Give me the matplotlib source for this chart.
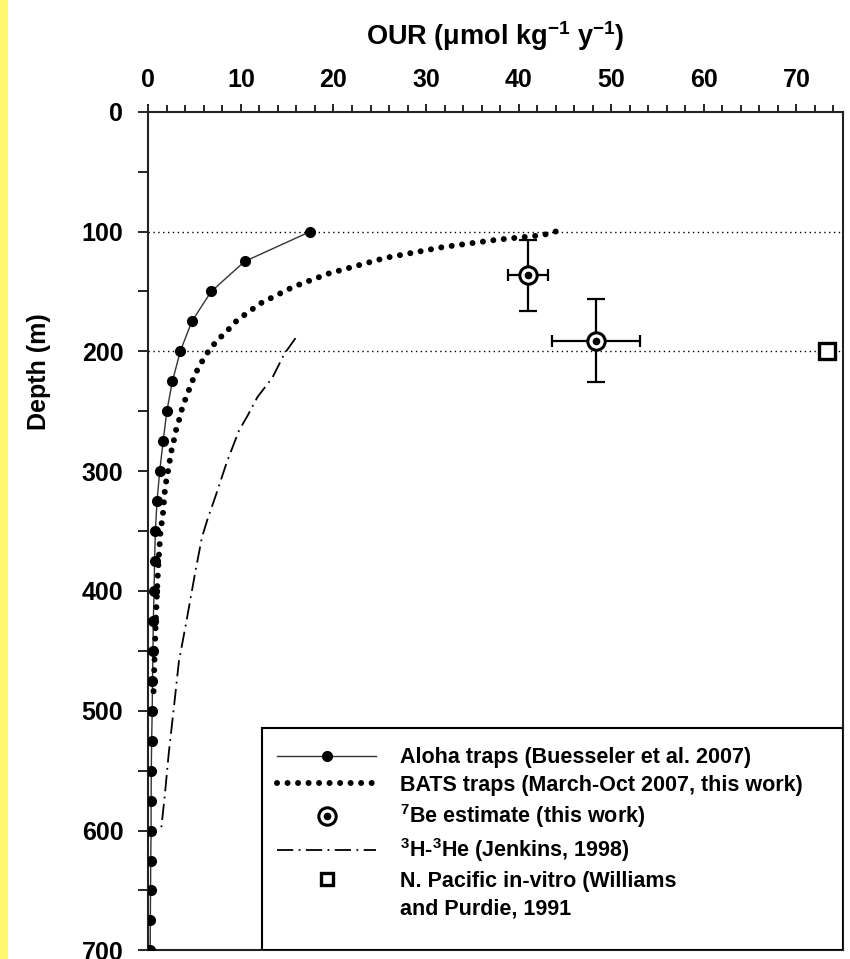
import matplotlib
matplotlib.use('Agg')
import matplotlib.pyplot as plt
from matplotlib.lines import Line2D
from matplotlib.patches import Rectangle
from matplotlib.ticker import MultipleLocator

plt.rcParams['font.family'] = ['Liberation Sans', 'DejaVu Sans']
plt.rcParams['font.weight'] = 'bold'
plt.rcParams['axes.labelweight'] = 'bold'
plt.rcParams['mathtext.fontset'] = 'custom'
plt.rcParams['mathtext.rm'] = 'Liberation Sans:bold'
plt.rcParams['mathtext.bf'] = 'Liberation Sans:bold'
plt.rcParams['mathtext.default'] = 'rm'

# Aloha sediment traps (Buesseler et al. 2007)
aloha_depth = [100, 125, 150, 175, 200, 225, 250, 275, 300, 325, 350, 375, 400,
               425, 450, 475, 500, 525, 550, 575, 600, 625, 650, 675, 700]
aloha_our = [17.5, 10.4, 6.8, 4.7, 3.45, 2.6, 2.0, 1.6, 1.23, 0.94, 0.76, 0.68, 0.62,
             0.54, 0.5, 0.45, 0.42, 0.36, 0.32, 0.3, 0.3, 0.26, 0.24, 0.22, 0.2]

# BATS traps (March-Oct 2007)
bats_depth = [100, 103, 107, 113, 122, 135, 146, 160, 174, 183, 192, 201, 211, 220,
              230, 240, 249, 258, 268, 277, 286, 295, 305, 315, 324, 334, 343, 352,
              370, 390, 426, 455, 487]
bats_our = [44.0, 42.6, 37.5, 31.8, 25.6, 19.5, 15.7, 12.1, 9.6, 8.5, 7.3, 6.4, 5.6, 5.0,
            4.5, 4.0, 3.6, 3.3, 2.9, 2.7, 2.4, 2.25, 2.0, 1.8, 1.7, 1.6, 1.45, 1.3,
            1.15, 1.0, 0.8, 0.68, 0.55]

# 3H-3He (Jenkins, 1998)
jenkins_depth = [189, 202, 222, 238, 254, 266, 292, 320, 340, 355, 383, 426, 459, 498,
                 536, 569, 598]
jenkins_our = [15.9, 14.7, 13.4, 11.8, 10.7, 9.8, 8.5, 7.3, 6.4, 5.8, 5.1, 4.1, 3.3, 2.75,
               2.2, 1.8, 1.4]

# 7Be estimates (this work)
be_depth = [136.5, 191]
be_our = [41.0, 48.4]
be_xerr = [2.2, 4.75]
be_yerr = [29.5, 35]

# N. Pacific in-vitro (Williams and Purdie, 1991)
vitro_depth = [200]
vitro_our = [73.3]

ref_depths = [100, 200]

labels = ['Aloha traps (Buesseler et al. 2007)',
          'BATS traps (March-Oct 2007, this work)',
          '$^{7}$Be estimate (this work)',
          '$^{3}$H-$^{3}$He (Jenkins, 1998)',
          'N. Pacific in-vitro (Williams',
          'and Purdie, 1991']

fig = plt.figure(figsize=(8.5, 9.59), dpi=100)
ax = fig.add_axes([0.1745, 0.0090, 0.8169, 0.8745])

# yellow strip on the left edge
fig.patches.append(Rectangle((0, 0), 8 / 850, 1, transform=fig.transFigure,
                             facecolor='#fff86e', edgecolor='none'))

for d in ref_depths:
    ax.axhline(d, color='black', lw=1.0, ls=(0, (1, 2.5)), zorder=1)

dots = dict(color='black', lw=4.3, ls=(0, (0.01, 1.75)), dash_capstyle='round')
dashdot = dict(color='black', lw=1.3, ls=(0, (9, 3, 1, 3)))

ax.plot(aloha_our, aloha_depth, color='#333333', lw=1.0, marker='o', ms=7,
        mfc='black', mec='black', zorder=3)
ax.plot(bats_our, bats_depth, zorder=3, **dots)
ax.plot(jenkins_our, jenkins_depth, zorder=3, **dashdot)

ax.errorbar(be_our, be_depth, yerr=be_yerr, fmt='none', ecolor='black',
            elinewidth=1.6, capsize=6.5, capthick=1.6, zorder=4)
ax.errorbar(be_our, be_depth, xerr=be_xerr, fmt='none', ecolor='black',
            elinewidth=1.6, capsize=4.5, capthick=1.6, zorder=4)
ax.plot(be_our, be_depth, ls='none', marker='o', ms=12.5, mfc='white', mec='black',
        mew=2.2, zorder=5)
ax.plot(be_our, be_depth, ls='none', marker='o', ms=4.5, mfc='black', mec='black',
        zorder=6)

ax.plot(vitro_our, vitro_depth, ls='none', marker='s', ms=11, mfc='white',
        mec='black', mew=2.4, zorder=5)

ax.set_xlim(0, 75)
ax.set_ylim(700, 0)
ax.xaxis.tick_top()
ax.xaxis.set_label_position('top')
ax.xaxis.set_major_locator(MultipleLocator(10))
ax.xaxis.set_minor_locator(MultipleLocator(2))
ax.yaxis.set_major_locator(MultipleLocator(100))
ax.yaxis.set_minor_locator(MultipleLocator(50))
ax.set_xticks([0, 10, 20, 30, 40, 50, 60, 70])
ax.tick_params(axis='x', which='major', length=6, width=1.2, pad=8, labelsize=18)
ax.tick_params(axis='x', which='minor', length=5, width=1.2)
ax.tick_params(axis='y', which='major', length=7, width=1.2, pad=11, labelsize=18)
ax.tick_params(axis='y', which='minor', length=7, width=1.2)
for s in ax.spines.values():
    s.set_linewidth(1.5)
    s.set_color('#222222')

ax.set_xlabel('OUR ($\\mu$mol kg$^{-1}$ y$^{-1}$)', fontsize=19.5, fontweight='bold',
              labelpad=17)
ax.set_ylabel('Depth (m)', fontsize=18, fontweight='bold')
ax.yaxis.set_label_coords(-0.14, 0.69)

# legend box drawn by hand, then legend entries without frame
ax.add_patch(Rectangle((0.163, 0.0), 0.837, 0.2655, transform=ax.transAxes,
                       facecolor='white', edgecolor='black', lw=1.5, zorder=7))
h_aloha = Line2D([], [], color='#333333', lw=1.0, marker='o', ms=7, mfc='black', mec='black')
h_bats = Line2D([], [], **dots)
h_be_out = Line2D([], [], ls='none', marker='o', ms=12.5, mfc='white', mec='black', mew=2.2)
h_be_in = Line2D([], [], ls='none', marker='o', ms=4.5, mfc='black', mec='black')
h_jen = Line2D([], [], **dashdot)
h_vitro = Line2D([], [], ls='none', marker='s', ms=9, mfc='white', mec='black', mew=2.4)
h_blank = Line2D([], [], ls='none', marker='none')
leg = ax.legend([h_aloha, h_bats, (h_be_out, h_be_in), h_jen, h_vitro, h_blank], labels,
                loc='upper left', bbox_to_anchor=(0.17, 0.255), frameon=False,
                fontsize=15.5, handlelength=4.6, handletextpad=1.1, labelspacing=0.3,
                borderpad=0, numpoints=1)
leg.set_zorder(8)

fig.savefig('out.png', dpi=100)
